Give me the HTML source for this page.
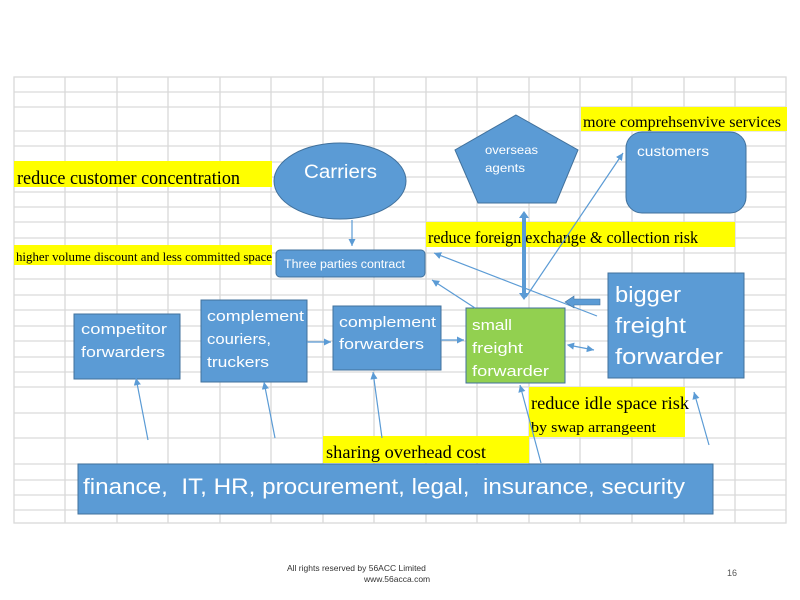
<!DOCTYPE html>
<html><head><meta charset="utf-8"><style>
body{margin:0;background:#fff;}
svg{display:block;}
.w{font-family:"Liberation Sans",sans-serif;fill:#fff;}
.b{font-family:"Liberation Serif",serif;fill:#000;}
</style></head><body>
<svg width="800" height="600" viewBox="0 0 800 600" xmlns="http://www.w3.org/2000/svg">
<defs><marker id="a" markerWidth="8" markerHeight="8" refX="6" refY="3" orient="auto"><path d="M0,0 L6,3 L0,6 z" fill="#5b9bd5"/></marker>
<marker id="s" markerWidth="8" markerHeight="8" refX="1" refY="3" orient="auto"><path d="M6,0 L0,3 L6,6 z" fill="#5b9bd5"/></marker></defs>
<g stroke="#d9d9d9" stroke-width="1.3">
<rect x="14" y="77" width="772" height="446" fill="none"/>
<path d="M65 77V523M117 77V523M168 77V523M220 77V523M271 77V523M323 77V523M374 77V523M426 77V523M477 77V523M529 77V523M580 77V523M632 77V523M684 77V523M735 77V523"/>
<path d="M14 92H786M14 107H786M14 131H786M14 146H786M14 162H786M14 177H786M14 192H786M14 207H786M14 222H786M14 238H786M14 253H786M14 279H786M14 295H786M14 310H786M14 326H786M14 341H786M14 357H786M14 372H786M14 387H786M14 413H786M14 438H786M14 464H786M14 480H786M14 495H786M14 510H786"/>
</g>
<g fill="#5b9bd5" stroke="#41719c" stroke-width="1">
<ellipse cx="340" cy="181" rx="66" ry="38"/>
<polygon points="516,115 578,150 556,203 478,203 455,150"/>
<rect x="626" y="132" width="120" height="81" rx="16"/>
<rect x="276" y="250" width="149" height="27" rx="4"/>
<rect x="74" y="314" width="106" height="65"/>
<rect x="201" y="300" width="106" height="82"/>
<rect x="333" y="306" width="108" height="64"/>
<rect x="466" y="308" width="99" height="75" fill="#92d050"/>
<rect x="608" y="273" width="136" height="105"/>
<rect x="78" y="464" width="635" height="50"/>
</g>
<g fill="#ffff00">
<rect x="14" y="161" width="258" height="26"/>
<rect x="14" y="245" width="258" height="20"/>
<rect x="581" y="107" width="206" height="24"/>
<rect x="426" y="222" width="309" height="25"/>
<rect x="529" y="387" width="156" height="50"/>
<rect x="323" y="436" width="206" height="27"/>
</g>
<text class="b" x="17" y="184" font-size="19" textLength="223" lengthAdjust="spacingAndGlyphs">reduce customer concentration</text>
<text class="b" x="16" y="261" font-size="13" textLength="256" lengthAdjust="spacingAndGlyphs">higher volume discount and less committed space</text>
<text class="b" x="583" y="127" font-size="16" textLength="198" lengthAdjust="spacingAndGlyphs">more comprehsenvive services</text>
<text class="b" x="428" y="243" font-size="17" textLength="270" lengthAdjust="spacingAndGlyphs">reduce foreign exchange &amp; collection risk</text>
<text class="b" x="531" y="409" font-size="18" textLength="158" lengthAdjust="spacingAndGlyphs">reduce idle space risk</text>
<text class="b" x="531" y="432" font-size="15" textLength="125" lengthAdjust="spacingAndGlyphs">by swap arrangeent</text>
<text class="b" x="326" y="458" font-size="18" textLength="160" lengthAdjust="spacingAndGlyphs">sharing overhead cost</text>
<text class="w" x="304" y="178" font-size="19" textLength="73" lengthAdjust="spacingAndGlyphs">Carriers</text>
<text class="w" x="485" y="154" font-size="12" textLength="53" lengthAdjust="spacingAndGlyphs">overseas</text>
<text class="w" x="485" y="172" font-size="12" textLength="40" lengthAdjust="spacingAndGlyphs">agents</text>
<text class="w" x="637" y="156" font-size="14" textLength="72" lengthAdjust="spacingAndGlyphs">customers</text>
<text class="w" x="284" y="268" font-size="11.5" textLength="121" lengthAdjust="spacingAndGlyphs">Three parties contract</text>
<text class="w" x="81" y="334" font-size="15" textLength="86" lengthAdjust="spacingAndGlyphs">competitor</text>
<text class="w" x="81" y="357" font-size="15" textLength="84" lengthAdjust="spacingAndGlyphs">forwarders</text>
<text class="w" x="207" y="321" font-size="15" textLength="97" lengthAdjust="spacingAndGlyphs">complement</text>
<text class="w" x="207" y="344" font-size="15" textLength="64" lengthAdjust="spacingAndGlyphs">couriers,</text>
<text class="w" x="207" y="367" font-size="15" textLength="62" lengthAdjust="spacingAndGlyphs">truckers</text>
<text class="w" x="339" y="327" font-size="15" textLength="97" lengthAdjust="spacingAndGlyphs">complement</text>
<text class="w" x="339" y="349" font-size="15" textLength="85" lengthAdjust="spacingAndGlyphs">forwarders</text>
<text class="w" x="472" y="330" font-size="15" textLength="40" lengthAdjust="spacingAndGlyphs">small</text>
<text class="w" x="472" y="353" font-size="15" textLength="51" lengthAdjust="spacingAndGlyphs">freight</text>
<text class="w" x="472" y="376" font-size="15" textLength="77" lengthAdjust="spacingAndGlyphs">forwarder</text>
<text class="w" x="615" y="302" font-size="22" textLength="66" lengthAdjust="spacingAndGlyphs">bigger</text>
<text class="w" x="615" y="333" font-size="22" textLength="71" lengthAdjust="spacingAndGlyphs">freight</text>
<text class="w" x="615" y="364" font-size="22" textLength="108" lengthAdjust="spacingAndGlyphs">forwarder</text>
<text class="w" x="83" y="494" font-size="22" textLength="602" lengthAdjust="spacingAndGlyphs" xml:space="preserve">finance,  IT, HR, procurement, legal,  insurance, security</text>
<g stroke="#5b9bd5" stroke-width="1.2" fill="none" marker-end="url(#a)">
<line x1="352" y1="220" x2="352" y2="246"/>
<line x1="307" y1="342" x2="331" y2="342"/>
<line x1="441" y1="340" x2="464" y2="340"/>
<line x1="526" y1="297" x2="623" y2="153"/>
<line x1="597" y1="316" x2="434" y2="253"/>
<line x1="475" y1="308" x2="432" y2="280"/>
<line x1="148" y1="440" x2="136" y2="378"/>
<line x1="275" y1="438" x2="264" y2="382"/>
<line x1="382" y1="438" x2="373" y2="372"/>
<line x1="541" y1="463" x2="520" y2="385"/>
<line x1="709" y1="445" x2="694" y2="392"/>
<line x1="568" y1="345" x2="594" y2="350" marker-start="url(#s)"/>
</g>
<rect x="522" y="214" width="4" height="82" fill="#5b9bd5"/>
<path d="M519 218 L524 211 L529 218z M519 293 L524 300 L529 293z" fill="#5b9bd5"/>
<path d="M600 299 H574 V296 L565 302 L574 308 V305 H600z" fill="#5b9bd5" stroke="#41719c" stroke-width="0.6"/>
<text x="287" y="571" font-family="Liberation Sans,sans-serif" font-size="8.5" fill="#333">All rights reserved by 56ACC Limited</text>
<text x="364" y="582" font-family="Liberation Sans,sans-serif" font-size="8.5" fill="#333">www.56acca.com</text>
<text x="727" y="576" font-family="Liberation Sans,sans-serif" font-size="9" fill="#555">16</text>
</svg>
</body></html>
